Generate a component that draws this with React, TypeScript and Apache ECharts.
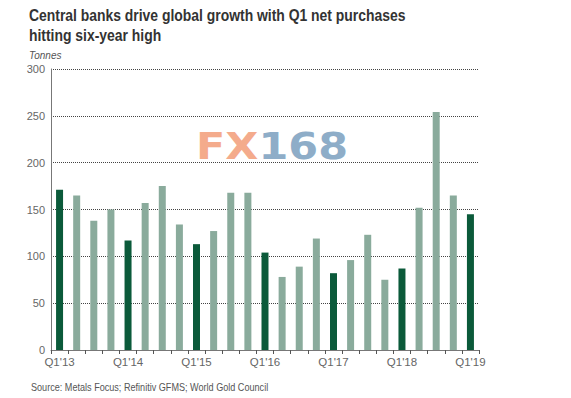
import React, { useEffect, useRef } from "react";
import * as echarts from "echarts";

const categories: string[] = [
  "Q1'13", "Q2'13", "Q3'13", "Q4'13",
  "Q1'14", "Q2'14", "Q3'14", "Q4'14",
  "Q1'15", "Q2'15", "Q3'15", "Q4'15",
  "Q1'16", "Q2'16", "Q3'16", "Q4'16",
  "Q1'17", "Q2'17", "Q3'17", "Q4'17",
  "Q1'18", "Q2'18", "Q3'18", "Q4'18",
  "Q1'19",
];
const purchases: number[] = [
  171, 165, 138, 150,
  117, 157, 175, 134,
  113, 127, 168, 168,
  104, 78, 89, 119,
  82, 96, 123, 75,
  87, 152, 254, 165,
  145,
];
const yTicks = { min: 0, max: 300, interval: 50 };

const DARK = "#0b5a3a";
const LIGHT = "#8aab9c";
const FONT = "Liberation Sans, Arial, sans-serif";

export default function App() {
  const ref = useRef<HTMLDivElement>(null);
  useEffect(() => {
    if (!ref.current) return;
    const chart = echarts.init(ref.current, undefined, { renderer: "svg" });
    chart.setOption({
      animation: false,
      backgroundColor: "#ffffff",
      textStyle: { fontFamily: FONT },
      graphic: [
        {
          type: "text", x: 29, y: 5, scaleX: 0.87,
          style: {
            text: "Central banks drive global growth with Q1 net purchases\nhitting six-year high",
            fontFamily: FONT, fontSize: 16, fontWeight: "bold", fill: "#333333", lineHeight: 20,
          },
        },
        { type: "text", x: 29, y: 50, style: { text: "Tonnes", fontFamily: FONT, fontSize: 10, fontStyle: "italic", fill: "#555555" } },
        { type: "text", x: 31, y: 382, scaleX: 0.91, style: { text: "Source: Metals Focus; Refinitiv GFMS; World Gold Council", fontFamily: FONT, fontSize: 10, fill: "#555555" } },
        {
          type: "text", x: 196, y: 127, z: -1, scaleX: 1.13,
          style: {
            text: "{a|FX}{b|168}",
            rich: {
              a: { fontFamily: "DejaVu Sans", fontSize: 38, fontWeight: "bold", fill: "#f4ab8c" },
              b: { fontFamily: "DejaVu Sans", fontSize: 38, fontWeight: "bold", fill: "#8eadc8" },
            },
          },
        },
      ],
      grid: { left: 51, right: 92, top: 69, bottom: 48, containLabel: false },
      xAxis: {
        type: "category",
        data: categories,
        boundaryGap: true,
        axisLine: { show: true, lineStyle: { color: "#777777", width: 1 } },
        axisTick: { show: true, interval: 0, length: 4, lineStyle: { color: "#555555" } },
        axisLabel: { interval: 3, fontSize: 11.5, color: "#666666", margin: 6, fontFamily: FONT },
      },
      yAxis: {
        type: "value",
        min: yTicks.min,
        max: yTicks.max,
        interval: yTicks.interval,
        axisLine: { show: true, lineStyle: { color: "#777777", width: 1 } },
        axisTick: { show: false },
        axisLabel: { fontSize: 11, color: "#666666", margin: 6, fontFamily: FONT },
        splitLine: { show: true, lineStyle: { color: "#444444", type: [1, 1], width: 1 } },
      },
      series: [
        {
          type: "bar",
          data: purchases.map((v, i) => ({ value: v, itemStyle: { color: i % 4 === 0 ? DARK : LIGHT } })),
          barWidth: 7,
        },
      ],
    });
    return () => chart.dispose();
  }, []);
  return <div ref={ref} style={{ width: 571, height: 398, position: "absolute", left: 0, top: 0 }} />;
}
